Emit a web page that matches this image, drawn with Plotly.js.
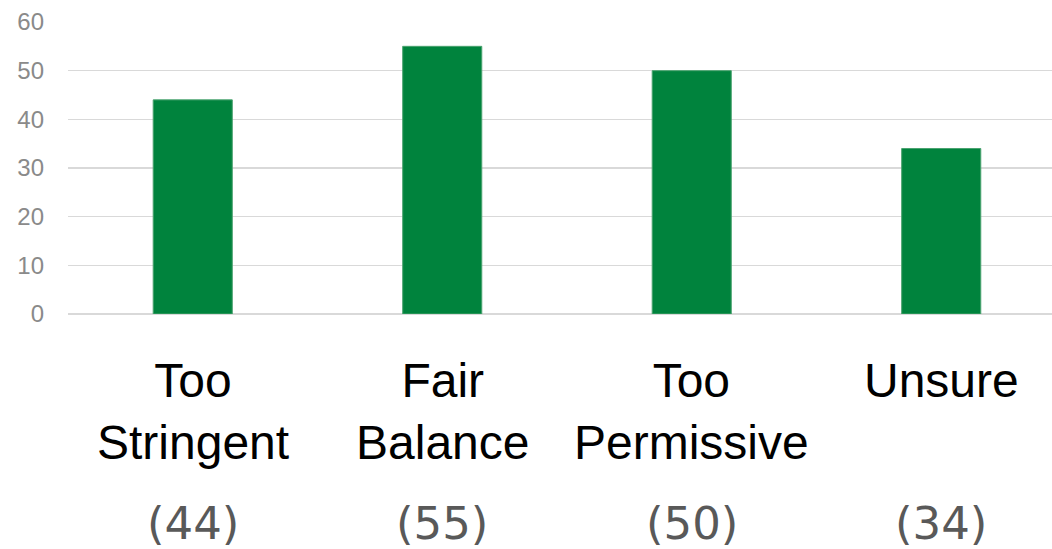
<!DOCTYPE html>
<html>
<head>
<meta charset="utf-8">
<script src="https://cdn.plot.ly/plotly-3.0.1.min.js"></script>
<style>html,body{margin:0;padding:0;background:#fff;}#chart{width:1052px;height:549px;}</style>
</head>
<body>
<div id="chart"></div>
<script>
const categories = ["Too<br>Stringent", "Fair<br>Balance", "Too<br>Permissive", "Unsure"];
const values = [44, 55, 50, 34];
const countLabels = ["(44)", "(55)", "(50)", "(34)"];
const yTicks = [0, 10, 20, 30, 40, 50, 60];

const xIdx = categories.map((c, i) => i);

const annotations = [];
categories.forEach((c, i) => {
  annotations.push({
    x: i, xref: 'x', y: 1, yref: 'paper', yshift: -330,
    text: c, showarrow: false, xanchor: 'center', yanchor: 'top',
    font: {family: 'Liberation Sans, Arial, sans-serif', size: 48, color: '#000000'}
  });
  annotations.push({
    x: i, xref: 'x', y: 1, yref: 'paper', yshift: -473,
    text: countLabels[i], showarrow: false, xanchor: 'center', yanchor: 'top',
    font: {family: 'DejaVu Sans, sans-serif', size: 45, color: '#595959'}
  });
});

const trace = {
  type: 'bar',
  x: xIdx,
  y: values,
  width: 0.317,
  marker: {color: '#00833D', line: {color: '#4aa36f', width: 1}},
  hoverinfo: 'skip'
};

const layout = {
  width: 1052, height: 549,
  margin: {l: 68, r: 0, t: 22, b: 235, pad: 0},
  paper_bgcolor: '#ffffff', plot_bgcolor: '#ffffff',
  showlegend: false,
  xaxis: {
    range: [-0.5, 3.444], showticklabels: false, showgrid: false,
    zeroline: false, showline: false, ticks: '', fixedrange: true
  },
  yaxis: {
    range: [0, 60], tickvals: yTicks, ticktext: yTicks.map(String),
    showgrid: true, gridcolor: '#d9d9d9', gridwidth: 1.5,
    zeroline: true, zerolinecolor: '#d9d9d9', zerolinewidth: 1.5,
    showline: false, ticks: '', ticklabelstandoff: 23,
    tickfont: {family: 'Liberation Sans, Arial, sans-serif', size: 24, color: '#8a8a8a'},
    fixedrange: true
  },
  annotations: annotations
};

Plotly.newPlot('chart', [trace], layout, {displayModeBar: false, staticPlot: true});
</script>
</body>
</html>
